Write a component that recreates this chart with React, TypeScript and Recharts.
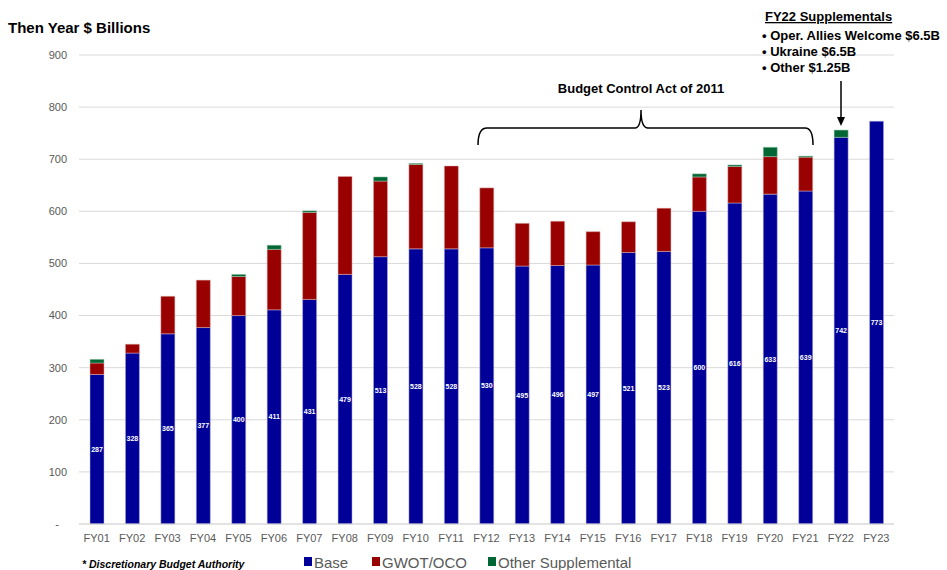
import { Bar, BarChart, CartesianGrid, LabelList, XAxis, YAxis } from "recharts";

// Then-year $B
const years = ["FY01", "FY02", "FY03", "FY04", "FY05", "FY06", "FY07", "FY08", "FY09", "FY10", "FY11", "FY12", "FY13", "FY14", "FY15", "FY16", "FY17", "FY18", "FY19", "FY20", "FY21", "FY22", "FY23"];
const base = [287, 328, 365, 377, 400, 411, 431, 479, 513, 528, 528, 530, 495, 496, 497, 521, 523, 600, 616, 633, 639, 742, 773];
const gwot = [22, 17, 72, 91, 75, 116, 167, 188, 145, 162, 159, 115, 82, 85, 64, 59, 83, 66, 70, 72, 65, 0, 0];
const other = [7, 0, 0, 0, 4, 8, 3, 0, 8, 2, 0, 0, 0, 0, 0, 0, 0, 6, 3, 18, 2, 14, 0];
const yTicks = [0, 100, 200, 300, 400, 500, 600, 700, 800, 900];

const supplementals = ["Oper. Allies Welcome $6.5B", "Ukraine $6.5B", "Other $1.25B"];

const BLUE = "#000099";
const RED = "#990000";
const GREEN = "#006633";
const FONT = "Arial, 'Liberation Sans', sans-serif";

const data = years.map((year, i) => ({
    year,
    base: base[i],
    gwot: gwot[i],
    other: other[i],
}));

function YTick({ x, y, payload }: any) {
    const zero = payload.value === 0;
    return (
        <text x={zero ? x - 8 : x} y={y} dy="0.35em" textAnchor="end" fill="#595959" fontSize={11} fontFamily={FONT}>
            {zero ? "-" : payload.value}
        </text>
    );
}

const legendItems = [
    { label: "Base", color: BLUE, x: 304 },
    { label: "GWOT/OCO", color: RED, x: 372 },
    { label: "Other Supplemental", color: GREEN, x: 488 },
];

export default function App() {
    return (
        <div style={{ position: "relative", width: 947, height: 570, fontFamily: FONT, background: "#fff" }}>
            <style>{`body{margin:0}`}</style>
            <BarChart
                width={947}
                height={570}
                data={data}
                margin={{ top: 55, right: 53, left: 0, bottom: 16 }}
                barSize={14}
            >
                <CartesianGrid vertical={false} stroke="#d9d9d9" />
                <XAxis
                    dataKey="year"
                    height={30}
                    tickLine={false}
                    tickSize={0}
                    tickMargin={10}
                    axisLine={{ stroke: "#d9d9d9" }}
                    tick={{ fill: "#595959", fontSize: 11, fontFamily: FONT }}
                    interval={0}
                />
                <YAxis
                    width={79}
                    domain={[0, 900]}
                    ticks={yTicks}
                    axisLine={false}
                    tickLine={false}
                    tickSize={0}
                    tickMargin={12}
                    tick={<YTick />}
                />
                <Bar dataKey="base" stackId="a" fill={BLUE} stroke="#b8b8e6" strokeWidth={0.5} isAnimationActive={false}>
                    <LabelList dataKey="base" position="center" fill="#fff" fontSize={7} fontWeight="bold" fontFamily={FONT} />
                </Bar>
                <Bar dataKey="gwot" stackId="a" fill={RED} stroke="#e0b0b0" strokeWidth={0.5} isAnimationActive={false} />
                <Bar dataKey="other" stackId="a" fill={GREEN} stroke="#a8cdb8" strokeWidth={0.5} isAnimationActive={false} />
            </BarChart>

            <svg width={947} height={570} style={{ position: "absolute", left: 0, top: 0, pointerEvents: "none" }} fontFamily={FONT}>
                <text x={8} y={33} fontSize={15} fontWeight="bold" fill="#000">Then Year $ Billions</text>

                {/* Budget Control Act brace */}
                <text x={641} y={93} fontSize={13} fontWeight="bold" textAnchor="middle" fill="#000">Budget Control Act of 2011</text>
                <path
                    d="M478,145 Q478,128 487,128 L635,128 Q641,128 641,110 Q641,128 648,128 L805,128 Q813,128 813,145"
                    fill="none"
                    stroke="#000"
                    strokeWidth={1.5}
                />

                {/* FY22 supplementals note */}
                <text x={765} y={21} fontSize={13} fontWeight="bold" fill="#000" textDecoration="underline">FY22 Supplementals</text>
                {supplementals.map((s, i) => (
                    <text key={s} x={762} y={40 + i * 16} fontSize={13} fontWeight="bold" fill="#000">{"\u2022 " + s}</text>
                ))}
                <line x1={841} y1={81} x2={841} y2={118} stroke="#000" strokeWidth={1.5} />
                <path d="M837,117 L845,117 L841,126 Z" fill="#000" />

                {/* footnote + legend */}
                <text x={82} y={568} fontSize={10.5} fontWeight="bold" fontStyle="italic" fill="#000">* Discretionary Budget Authority</text>
                {legendItems.map((item) => (
                    <g key={item.label}>
                        <rect x={item.x} y={557} width={8} height={9} fill={item.color} />
                        <text x={item.x + 10} y={568} fontSize={15} fill="#595959">{item.label}</text>
                    </g>
                ))}
            </svg>
        </div>
    );
}
